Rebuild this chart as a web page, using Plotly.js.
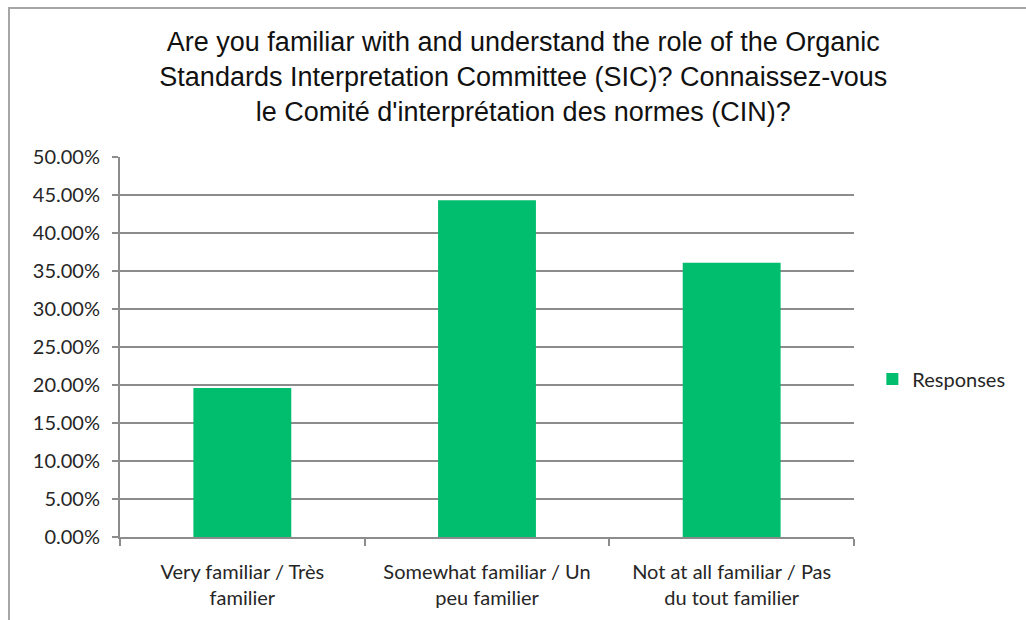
<!DOCTYPE html>
<html>
<head>
<meta charset="utf-8">
<script src="https://cdn.plot.ly/plotly-3.0.1.min.js"></script>
<style>
  html, body { margin: 0; padding: 0; background: #ffffff; }
  #wrap { position: relative; width: 1026px; height: 620px; overflow: hidden; }
  #chart { width: 1026px; height: 620px; }
  #frame { position: absolute; left: 8px; top: 7px; width: 1100px; height: 700px;
           border-left: 2px solid #a6a6a6; border-top: 2px solid #a6a6a6; pointer-events: none; }
</style>
</head>
<body>
<div id="wrap">
  <div id="chart"></div>
  <div id="frame"></div>
</div>
<script>
const categories = [
  "Very familiar / Très<br>familier",
  "Somewhat familiar / Un<br>peu familier",
  "Not at all familiar / Pas<br>du tout familier"
];
const seriesName = "Responses";
const responses = [0.196, 0.443, 0.361];
const titleText = "Are you familiar with and understand the role of the Organic<br>Standards Interpretation Committee (SIC)? Connaissez-vous<br>le Comité d'interprétation des normes (CIN)?";

const tickFont = { family: "Lato, 'Open Sans', sans-serif", size: 20, color: "#262626" };

const data = [{
  type: "bar",
  x: categories,
  y: responses,
  name: seriesName,
  marker: { color: "#00BE6E" },
  showlegend: true
}];

const layout = {
  width: 1026,
  height: 620,
  paper_bgcolor: "#ffffff",
  plot_bgcolor: "#ffffff",
  margin: { l: 120, r: 172, t: 157, b: 83 },
  title: {
    text: titleText,
    font: { family: "'Liberation Sans', Arial, sans-serif", size: 27, color: "#111111" },
    x: 0.51,
    xanchor: "center",
    y: 0.918,
    yanchor: "top",
    xref: "container",
    yref: "container"
  },
  bargap: 0.6,
  xaxis: {
    type: "category",
    showline: true,
    linecolor: "#8c8c8c",
    linewidth: 2,
    ticks: "outside",
    tickson: "boundaries",
    ticklen: 7,
    tickcolor: "#8c8c8c",
    tickwidth: 2,
    tickfont: tickFont,
    ticklabelstandoff: 16,
    showgrid: false,
    zeroline: false
  },
  yaxis: {
    range: [0, 0.5],
    dtick: 0.05,
    tick0: 0,
    tickformat: ".2%",
    showline: true,
    linecolor: "#8c8c8c",
    linewidth: 2,
    ticks: "outside",
    ticklen: 6,
    tickcolor: "#8c8c8c",
    tickwidth: 2,
    tickfont: tickFont,
    ticklabelstandoff: 8,
    showgrid: true,
    gridcolor: "#8c8c8c",
    gridwidth: 2,
    zeroline: false
  },
  legend: {
    x: 1.025,
    xanchor: "left",
    y: 0.416,
    yanchor: "middle",
    font: { family: "Lato, 'Open Sans', sans-serif", size: 20, color: "#262626" },
    bgcolor: "rgba(0,0,0,0)",
    itemwidth: 30
  }
};

Plotly.newPlot("chart", data, layout, { staticPlot: true, displayModeBar: false });
</script>
</body>
</html>
